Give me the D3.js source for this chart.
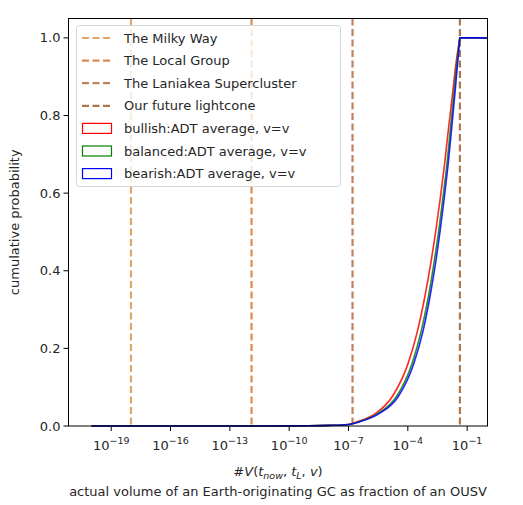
<!DOCTYPE html>
<html lang="en">
<head>
  <meta charset="UTF-8" />
  <title>Cumulative probability of GC volume</title>
  <script src="https://d3js.org/d3.v7.min.js"></script>
  <style>
    body, html {
      margin: 0;
      padding: 0;
      background: #fff;
    }
    svg {
      display: block;
      font-family: "DejaVu Sans", sans-serif;
    }
  </style>
</head>
<body>
  <svg id="chart" width="523" height="505"></svg>
  <script>
    // Reference lines (volume fraction) and their labels
    const regionNames = ['The Milky Way', 'The Local Group', 'The Laniakea Supercluster', 'Our future lightcone'];
    const regionVolumes = [1e-18, 1.25e-12, 1.6e-7, 0.043];
    const regionColors = ['#dfa66c', '#dd8b4f', '#c1825d', '#b0784a'];

    // Curves: log10 of volume fraction, cumulative probability
    const seriesNames = ['bullish:ADT average, v=v', 'balanced:ADT average, v=v', 'bearish:ADT average, v=v'];
    const seriesColors = ['red', 'green', 'blue'];
    const probLevels = [0, 0, 0.0005, 0.0015, 0.004, 0.011, 0.033, 0.0755, 0.162, 0.247, 0.333, 0.419, 0.505, 0.59, 0.675, 0.763, 0.85, 0.935, 1.0];
    const bullishExp  = [-20, -12, -9, -8, -7, -6.55, -5.61, -4.79, -3.98, -3.50, -3.14, -2.84, -2.58, -2.35, -2.14, -1.95, -1.75, -1.56, -1.37];
    const balancedExp = [-20, -12, -9, -8, -7, -6.47, -5.48, -4.58, -3.78, -3.31, -2.96, -2.68, -2.43, -2.22, -2.02, -1.85, -1.68, -1.52, -1.37];
    const bearishExp  = [-20, -12, -9, -8, -7, -6.42, -5.41, -4.49, -3.69, -3.22, -2.88, -2.60, -2.36, -2.15, -1.96, -1.79, -1.63, -1.48, -1.37];

    const xTickExp = [-19, -16, -13, -10, -7, -4, -1];
    const yTicks = [0, 0.2, 0.4, 0.6, 0.8, 1.0];

    const series = [bullishExp, balancedExp, bearishExp];

    const svg = d3.select('#chart');
    const plotLeft = 68.5, plotRight = 487.5, plotTop = 18.5, plotBottom = 426;

    const x = d3.scaleLog()
      .domain([Math.pow(10, -21.16), Math.pow(10, 0.03)])
      .range([plotLeft, plotRight]);
    const y = d3.scaleLinear()
      .domain([0, 1.05])
      .range([plotBottom, plotTop]);

    // x axis ticks with superscript labels
    const xAxis = svg.append('g').attr('transform', `translate(0,${plotBottom})`);
    xAxis.selectAll('line')
      .data(xTickExp)
      .enter().append('line')
      .attr('x1', d => x(Math.pow(10, d)))
      .attr('x2', d => x(Math.pow(10, d)))
      .attr('y1', 0)
      .attr('y2', 5)
      .attr('stroke', '#000')
      .attr('stroke-width', 1);
    const xl = xAxis.selectAll('text')
      .data(xTickExp)
      .enter().append('text')
      .attr('x', d => x(Math.pow(10, d)))
      .attr('y', 24)
      .attr('text-anchor', 'middle')
      .attr('font-size', 13)
      .attr('fill', '#262626');
    xl.append('tspan').text('10');
    xl.append('tspan')
      .attr('dy', -6)
      .attr('font-size', 9.5)
      .text(d => '\u2212' + Math.abs(d));

    // y axis
    const yAxis = svg.append('g').attr('transform', `translate(${plotLeft},0)`);
    yAxis.selectAll('line')
      .data(yTicks)
      .enter().append('line')
      .attr('x1', -5)
      .attr('x2', 0)
      .attr('y1', d => y(d))
      .attr('y2', d => y(d))
      .attr('stroke', '#000');
    yAxis.selectAll('text')
      .data(yTicks)
      .enter().append('text')
      .attr('x', -8)
      .attr('y', d => y(d))
      .attr('dy', '0.35em')
      .attr('text-anchor', 'end')
      .attr('font-size', 13)
      .attr('fill', '#262626')
      .text(d => d.toFixed(1));

    // vertical dashed lines
    svg.append('g')
      .selectAll('line')
      .data(regionVolumes)
      .enter().append('line')
      .attr('x1', d => x(d))
      .attr('x2', d => x(d))
      .attr('y1', plotTop)
      .attr('y2', plotBottom)
      .attr('stroke', (d, i) => regionColors[i])
      .attr('stroke-width', 2.2)
      .attr('stroke-dasharray', '7,3.5');

    // curves: smooth rise then flat at 1 to the right edge
    const line = d3.line()
      .x(d => x(Math.pow(10, d[0])))
      .y(d => y(d[1]))
      .curve(d3.curveMonotoneX);

    svg.append('g')
      .selectAll('path')
      .data(series)
      .enter().append('path')
      .attr('d', s => {
        const pts = s.map((e, i) => [e, probLevels[i]]);
        return line(pts) + 'H' + plotRight;
      })
      .attr('fill', 'none')
      .attr('stroke', (d, i) => seriesColors[i])
      .attr('stroke-opacity', 0.85)
      .attr('stroke-width', 1.6);

    // frame
    svg.append('rect')
      .attr('x', plotLeft)
      .attr('y', plotTop)
      .attr('width', plotRight - plotLeft)
      .attr('height', plotBottom - plotTop)
      .attr('fill', 'none')
      .attr('stroke', '#000')
      .attr('stroke-width', 1);

    // axis titles
    const xt = svg.append('text')
      .attr('x', (plotLeft + plotRight) / 2)
      .attr('y', 476)
      .attr('text-anchor', 'middle')
      .attr('font-size', 13)
      .attr('fill', '#262626');
    xt.append('tspan').text('#');
    xt.append('tspan').attr('font-style', 'italic').text('V');
    xt.append('tspan').text('(');
    xt.append('tspan').attr('font-style', 'italic').text('t');
    xt.append('tspan').attr('font-style', 'italic').attr('font-size', 9.5).attr('dy', 3).text('now');
    xt.append('tspan').attr('dy', -3).text(', ');
    xt.append('tspan').attr('font-style', 'italic').text('t');
    xt.append('tspan').attr('font-style', 'italic').attr('font-size', 9.5).attr('dy', 3).text('L');
    xt.append('tspan').attr('dy', -3).text(', ');
    xt.append('tspan').attr('font-style', 'italic').text('v');
    xt.append('tspan').text(')');

    svg.append('text')
      .attr('x', (plotLeft + plotRight) / 2)
      .attr('y', 496)
      .attr('text-anchor', 'middle')
      .attr('font-size', 13)
      .attr('fill', '#262626')
      .text('actual volume of an Earth-originating GC as fraction of an OUSV');

    svg.append('text')
      .attr('transform', `translate(19,${(plotTop + plotBottom) / 2}) rotate(-90)`)
      .attr('text-anchor', 'middle')
      .attr('font-size', 13)
      .attr('fill', '#262626')
      .text('cumulative probability');

    // legend
    const legend = svg.append('g');
    legend.append('rect')
      .attr('x', 76.5)
      .attr('y', 25.5)
      .attr('width', 264)
      .attr('height', 161)
      .attr('rx', 3)
      .attr('fill', 'rgba(255,255,255,0.8)')
      .attr('stroke', '#d6d6d6');

    const rowY = i => 38 + i * 22.6;
    const allNames = regionNames.concat(seriesNames);
    regionNames.forEach((name, i) => {
      legend.append('line')
        .attr('x1', 82).attr('x2', 112)
        .attr('y1', rowY(i)).attr('y2', rowY(i))
        .attr('stroke', regionColors[i])
        .attr('stroke-width', 2.2)
        .attr('stroke-dasharray', '7,3.5');
    });
    seriesNames.forEach((name, i) => {
      legend.append('rect')
        .attr('x', 82.5).attr('y', rowY(i + 4) - 5)
        .attr('width', 29).attr('height', 10)
        .attr('fill', 'none')
        .attr('stroke', seriesColors[i])
        .attr('stroke-width', 1.2);
    });
    legend.selectAll('text')
      .data(allNames)
      .enter().append('text')
      .attr('x', 124)
      .attr('y', (d, i) => rowY(i))
      .attr('dy', '0.35em')
      .attr('font-size', 13)
      .attr('fill', '#262626')
      .text(d => d);
  </script>
</body>
</html>
